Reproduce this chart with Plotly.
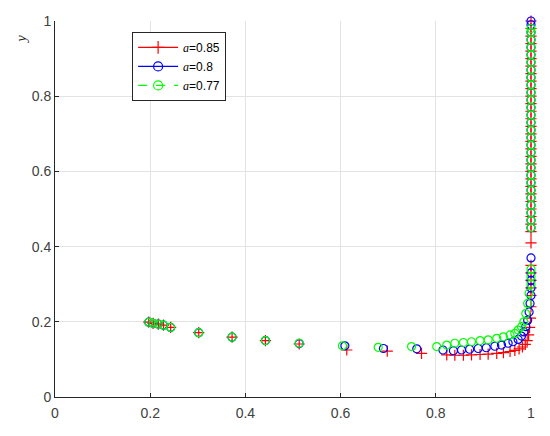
import plotly.graph_objects as go

# a = 0.85 (red, +)
x_085 = [0.197, 0.206, 0.217, 0.228, 0.243, 0.302, 0.372, 0.442, 0.513, 0.613, 0.698, 0.770,
         0.823, 0.840, 0.858, 0.875, 0.893, 0.910, 0.928, 0.942, 0.956, 0.966, 0.975, 0.982,
         0.988, 0.992, 0.995, 0.997, 0.999]
y_085 = [0.199, 0.196, 0.194, 0.191, 0.185, 0.171, 0.159, 0.150, 0.141, 0.125, 0.122, 0.116,
         0.112, 0.111, 0.111, 0.112, 0.113, 0.114, 0.116, 0.118, 0.121, 0.124, 0.128, 0.133,
         0.140, 0.150, 0.165, 0.185, 0.210]
yv_085 = [0.24, 0.27, 0.29, 0.31, 0.33, 0.35, 0.41, 0.44, 0.46, 0.48, 0.50, 0.52, 0.54, 0.56,
          0.58, 0.60, 0.62, 0.64, 0.66, 0.68, 0.70, 0.72, 0.74, 0.76, 0.78, 0.80, 0.82, 0.84,
          0.86, 0.88, 0.90, 0.92, 0.94, 0.96, 0.98, 1.00]

# a = 0.8 (blue, o)
x_080 = [0.197, 0.206, 0.217, 0.228, 0.243, 0.302, 0.372, 0.442, 0.513, 0.609, 0.690, 0.760,
         0.815, 0.837, 0.854, 0.871, 0.889, 0.906, 0.924, 0.938, 0.952, 0.962, 0.973, 0.980,
         0.985, 0.989, 0.993, 0.996, 0.998]
y_080 = [0.199, 0.196, 0.194, 0.191, 0.185, 0.171, 0.159, 0.150, 0.142, 0.136, 0.129, 0.128,
         0.125, 0.123, 0.125, 0.127, 0.129, 0.131, 0.135, 0.138, 0.143, 0.147, 0.153, 0.162,
         0.173, 0.187, 0.204, 0.226, 0.249]
yv_080 = [0.27, 0.29, 0.31, 0.33, 0.37, 0.45, 0.47, 0.49, 0.51, 0.53, 0.55, 0.57, 0.59, 0.61,
          0.63, 0.65, 0.67, 0.69, 0.71, 0.73, 0.75, 0.77, 0.79, 0.81, 0.83, 0.85, 0.87, 0.89,
          0.91, 0.93, 0.95, 0.97, 0.99, 1.00]

# a = 0.77 (green, o, dashed)
x_077 = [0.197, 0.206, 0.217, 0.228, 0.243, 0.302, 0.372, 0.442, 0.513, 0.604, 0.679, 0.749,
         0.802, 0.823, 0.840, 0.858, 0.875, 0.893, 0.910, 0.928, 0.942, 0.956, 0.966, 0.973,
         0.980, 0.985, 0.989, 0.993, 0.996]
y_077 = [0.199, 0.196, 0.194, 0.191, 0.185, 0.171, 0.159, 0.150, 0.143, 0.136, 0.132, 0.134,
         0.134, 0.138, 0.143, 0.145, 0.147, 0.150, 0.152, 0.156, 0.160, 0.165, 0.169, 0.178,
         0.187, 0.200, 0.222, 0.249, 0.276]
yv_077 = [0.30, 0.32, 0.34, 0.45, 0.47, 0.49, 0.51, 0.53, 0.55, 0.57, 0.59, 0.61, 0.63, 0.65,
          0.67, 0.69, 0.71, 0.73, 0.75, 0.77, 0.79, 0.81, 0.83, 0.85, 0.87, 0.89, 0.91, 0.93,
          0.95, 0.97, 0.98]

series = [
    ("0.85", x_085, y_085, yv_085, "#ff0000", "cross-thin-open", "solid"),
    ("0.8", x_080, y_080, yv_080, "#0000ff", "circle-open", "solid"),
    ("0.77", x_077, y_077, yv_077, "#00ff00", "circle-open", "dash"),
]

fig = go.Figure()
for name, xs, ys, yv, color, sym, dash in series:
    fig.add_trace(go.Scatter(
        x=xs + [1.0] * len(yv), y=ys + yv, mode="markers",
        marker=dict(symbol=sym, size=8, color=color, line=dict(color=color, width=1.2)),
        showlegend=False, cliponaxis=False,
    ))
for name, xs, ys, yv, color, sym, dash in series:
    fig.add_trace(go.Scatter(
        x=[None], y=[None], mode="lines+markers",
        name='<span style="font-family:Liberation Serif;font-style:italic">a</span>=' + name,
        line=dict(color=color, width=1.2, dash=dash),
        marker=dict(symbol=sym, size=9, color=color, line=dict(color=color, width=1.2)),
    ))

axis_common = dict(
    range=[0, 1], tickvals=[0, 0.2, 0.4, 0.6, 0.8, 1],
    ticktext=["0", "0.2", "0.4", "0.6", "0.8", "1"],
    showgrid=True, gridcolor="#e3e3e3", gridwidth=1,
    showline=True, linecolor="#262626", linewidth=1,
    ticks="inside", ticklen=4, tickcolor="#262626",
    zeroline=False, tickfont=dict(family="Liberation Sans", size=14, color="#404040"),
)

fig.update_layout(
    width=550, height=436,
    margin=dict(l=55, r=19, t=21, b=39),
    plot_bgcolor="white", paper_bgcolor="white",
    xaxis=dict(**axis_common, ticklabelstandoff=3),
    yaxis=dict(**axis_common),
    legend=dict(
        x=0.162, y=0.971, xanchor="left", yanchor="top",
        bgcolor="white", bordercolor="#262626", borderwidth=1,
        font=dict(family="Liberation Sans", size=12, color="black"),
        tracegroupgap=0, itemwidth=40,
    ),
    annotations=[dict(
        text="<i>y</i>", xref="paper", yref="paper", x=-0.09, y=0.97,
        showarrow=False, textangle=-90,
        font=dict(family="Liberation Serif", size=14, color="#262626"),
    )],
)

fig.write_html("out.html", config={"displayModeBar": False},
               post_script="document.body.style.margin='0';")
